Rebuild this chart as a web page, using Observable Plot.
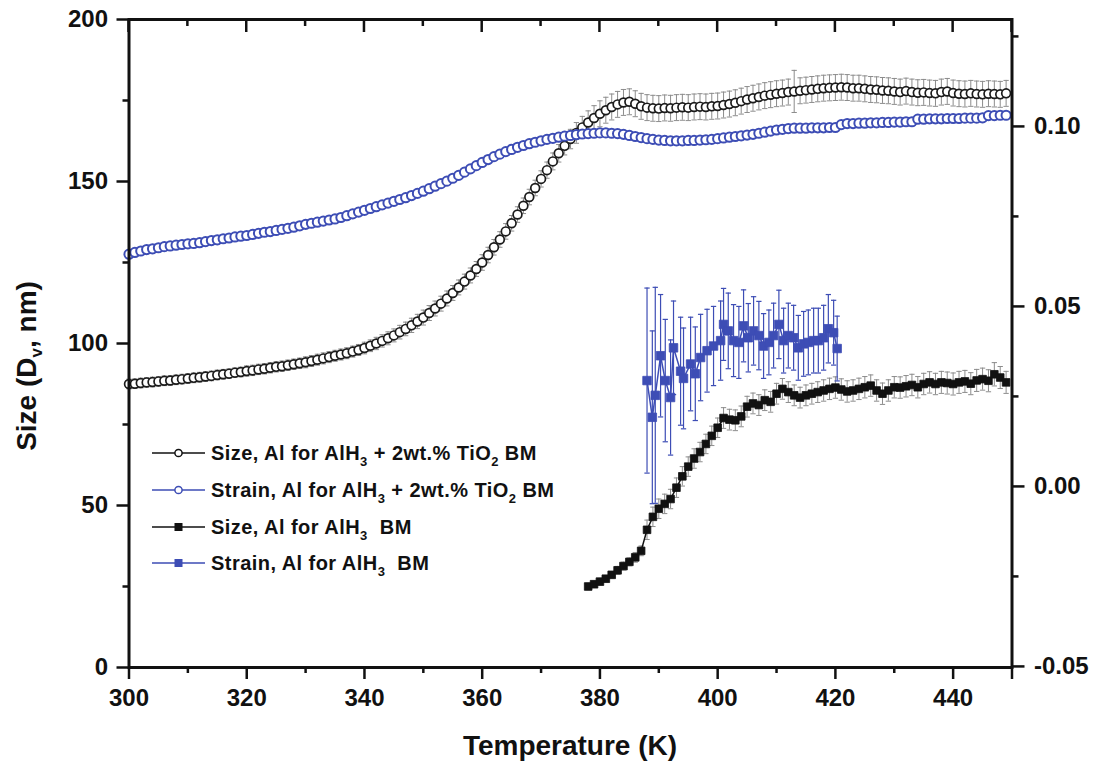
<!DOCTYPE html>
<html><head><meta charset="utf-8">
<script src="https://cdn.jsdelivr.net/npm/d3@7"></script>
<script src="https://cdn.jsdelivr.net/npm/@observablehq/plot@0.6"></script>
<style>
body{margin:0;background:#fff}
#chart svg{font-family:"Liberation Sans",Arial,sans-serif;font-weight:bold}
</style>
</head><body><div id="chart"></div><script>
// ---------- data ----------
const tempsTiO2 = [
300,301,302,303,304,305,306,307,308,309,310,311,312,313,314,315,316,317,318,319,
320,321,322,323,324,325,326,327,328,329,330,331,332,333,334,335,336,337,338,339,
340,341,342,343,344,345,346,347,348,349,350,351,352,353,354,355,356,357,358,359,
360,361,362,363,364,365,366,367,368,369,370,371,372,373,374,375,376,377,378,379,
380,381,382,383,384,385,386,387,388,389,390,391,392,393,394,395,396,397,398,399,
400,401,402,403,404,405,406,407,408,409,410,411,412,413,414,415,416,417,418,419,
420,421,422,423,424,425,426,427,428,429,430,431,432,433,434,435,436,437,438,439,
440,441,442,443,444,445,446,447,448,449];
const sizeTiO2 = [
87.5,87.6,87.8,88.0,88.1,88.3,88.5,88.6,88.8,89.0,
89.2,89.4,89.6,89.8,90.0,90.3,90.5,90.7,91.0,91.2,
91.5,91.7,92.0,92.2,92.5,92.8,93.0,93.3,93.6,93.9,
94.2,94.6,95.0,95.4,95.8,96.2,96.6,97.0,97.5,98.0,
98.6,99.3,100.0,100.8,101.6,102.5,103.5,104.5,105.6,106.8,
108.0,109.4,110.8,112.3,113.9,115.6,117.3,119.1,121.0,123.0,
125.0,127.3,129.7,132.1,134.6,137.1,139.8,142.5,145.2,148.0,
150.8,153.5,156.2,158.7,161.0,163.1,165.0,166.7,168.2,169.6,
170.9,172.0,173.0,173.8,174.4,174.6,174.0,173.2,172.8,172.6,
172.5,172.7,172.6,172.8,172.9,172.8,173.0,173.1,173.0,173.2,
173.3,173.6,173.9,174.3,174.8,175.3,175.7,176.1,176.5,176.8,
177.1,177.3,177.6,177.8,178.0,178.2,178.4,178.6,178.8,178.9,
179.0,179.1,179.0,178.8,178.8,178.6,178.4,178.3,178.1,178.0,
177.8,177.6,177.9,177.6,177.4,177.5,177.3,177.2,177.6,177.8,
177.3,177.1,177.0,177.2,177.0,176.9,177.1,177.0,176.9,177.2];
const sizeTiO2Err = [
1.5,1.5,1.5,1.5,1.5,1.5,1.5,1.5,1.5,1.5,
1.5,1.5,1.5,1.5,1.5,1.5,1.5,1.5,1.5,1.5,
1.6,1.6,1.6,1.6,1.6,1.6,1.6,1.6,1.6,1.6,
1.7,1.7,1.7,1.7,1.7,1.7,1.7,1.7,1.7,1.7,
1.8,1.8,1.9,1.9,2.0,2.0,2.1,2.1,2.2,2.2,
2.3,2.3,2.3,2.3,2.3,2.3,2.3,2.3,2.3,2.3,
2.4,2.4,2.4,2.4,2.4,2.4,2.4,2.4,2.4,2.4,
2.5,2.5,2.6,2.7,2.8,3.0,3.2,3.4,3.6,3.8,
4.0,4.0,4.0,4.0,4.0,4.0,4.0,4.0,4.0,4.0,
4.0,4.0,4.0,4.0,4.0,4.0,4.0,4.0,4.0,4.0,
4.0,4.0,4.0,4.0,4.0,4.0,4.0,4.0,4.0,4.0,
4.0,4.0,4.0,6.5,4.0,4.0,4.0,4.0,4.0,4.0,
4.0,4.0,4.0,4.0,4.0,4.0,4.0,4.0,4.0,4.0,
4.0,4.0,4.0,4.0,4.0,4.0,4.0,4.0,4.0,4.0,
4.0,4.0,4.0,4.0,4.0,4.0,4.0,4.0,4.0,4.0];
const strainTiO2 = [
.0645,.0650,.0654,.0658,.0660,.0663,.0666,.0668,.0670,.0672,
.0674,.0675,.0677,.0680,.0683,.0685,.0688,.0690,.0693,.0695,
.0697,.0700,.0703,.0706,.0708,.0711,.0714,.0717,.0720,.0724,
.0728,.0731,.0734,.0737,.0740,.0743,.0747,.0752,.0757,.0762,
.0767,.0772,.0777,.0782,.0787,.0792,.0797,.0802,.0808,.0814,
.0820,.0827,.0834,.0841,.0848,.0856,.0864,.0873,.0882,.0891,
.0900,.0908,.0916,.0923,.0930,.0936,.0942,.0947,.0952,.0956,
.0960,.0964,.0967,.0970,.0973,.0975,.0977,.0979,.0980,.0981,
.0982,.0982,.0981,.0980,.0978,.0975,.0972,.0969,.0966,.0964,
.0962,.0961,.0960,.0960,.0960,.0961,.0961,.0962,.0963,.0964,
.0966,.0968,.0970,.0972,.0974,.0976,.0978,.0981,.0984,.0987,
.0990,.0992,.0994,.0995,.0995,.0995,.0996,.0996,.0996,.0997,
.0997,.1005,.1008,.1008,.1009,.1009,.1010,.1010,.1011,.1011,
.1012,.1012,.1013,.1013,.1020,.1020,.1021,.1021,.1021,.1022,
.1022,.1022,.1023,.1023,.1023,.1024,.1030,.1030,.1031,.1031];

const tempsBM = [
378,379,380,381,382,383,384,385,386,387,
388,389,390,391,392,393,394,395,396,397,
398,399,400,401,402,403,404,405,406,407,
408,409,410,411,412,413,414,415,416,417,
418,419,420,421,422,423,424,425,426,427,
428,429,430,431,432,433,434,435,436,437,
438,439,440,441,442,443,444,445,446,447,
448,449];
const sizeBM = [
25.0,25.7,26.5,27.4,28.6,30.0,31.3,32.6,34.0,36.0,
42.5,46.5,49.0,50.5,52.0,55.5,59.0,62.0,64.5,66.5,
69.0,71.5,74.0,77.0,76.5,76.3,77.5,80.5,81.5,81.0,
82.5,82.0,84.5,86.0,85.0,84.0,83.3,84.0,84.5,85.0,
85.5,86.0,86.4,85.8,85.2,85.5,86.0,86.5,87.0,85.5,
84.5,85.5,86.5,86.4,86.8,87.2,86.5,87.5,88.0,87.5,
88.0,87.8,87.5,88.0,88.3,87.6,88.6,89.0,88.5,90.5,
89.5,88.0];
const sizeBMErr = [
1.0,1.0,1.0,1.0,1.0,1.2,1.2,1.2,1.5,1.5,
3.0,3.0,3.0,3.0,3.0,3.0,3.0,3.0,3.0,3.0,
3.0,3.0,3.0,3.2,3.2,3.2,3.2,3.2,3.2,3.2,
3.2,3.2,3.2,3.2,3.2,3.2,3.2,3.2,3.2,3.2,
3.3,3.3,3.3,3.3,3.3,3.3,3.3,3.3,3.3,3.3,
3.3,3.3,3.3,3.3,3.3,3.3,3.3,3.3,3.3,3.3,
3.4,3.4,3.4,3.4,3.4,3.4,3.4,3.4,3.4,3.6,
3.4,3.4];

const tempsStrainBM = [
388.0,388.9,389.4,390.3,391.1,392.0,392.5,393.7,394.2,395.4,
396.2,397.1,398.2,399.3,400.5,401.0,401.8,402.7,403.6,404.4,
405.2,406.1,407.0,407.8,408.7,409.5,410.4,411.2,412.0,412.9,
413.7,414.6,415.4,416.3,417.1,418.0,418.8,419.7,420.3];
const strainBM = [
.0294,.0192,.0253,.0363,.0294,.0247,.0385,.0320,.0300,.0340,
.0313,.0358,.0377,.0390,.0405,.0450,.0432,.0405,.0400,.0446,
.0413,.0432,.0419,.0390,.0400,.0419,.0450,.0405,.0419,.0413,
.0385,.0396,.0400,.0405,.0405,.0413,.0438,.0427,.0383];
const strainBMErr = [
.0257,.0240,.0300,.0170,.0170,.0160,.0130,.0150,.0140,.0130,
.0130,.0120,.0115,.0110,.0110,.0100,.0105,.0100,.0100,.0100,
.0095,.0095,.0095,.0090,.0090,.0090,.0095,.0090,.0090,.0090,
.0090,.0090,.0090,.0090,.0090,.0090,.0095,.0090,.0090];

const xMajorTicks = [300,320,340,360,380,400,420,440,450];
const xMinorTicks = [310,330,350,370,390,410,430];
const yMajorTicks = [0,50,100,150,200];
const yMinorTicks = [25,75,125,175];
const strainMajorTicks = [-0.05,0,0.05,0.10];
const strainMinorTicks = [-0.025,0.025,0.075,0.125];
const strainDomain = [-0.0503,0.1297];

const legendItems = [
  {parts:[["Size, Al for AlH"],["3",true],[" + 2wt.% TiO"],["2",true],[" BM"]], color:"black", marker:"circle"},
  {parts:[["Strain, Al for AlH"],["3",true],[" + 2wt.% TiO"],["2",true],[" BM"]], color:"blue", marker:"circle"},
  {parts:[["Size, Al for AlH"],["3",true],["\u00a0\u00a0BM"]], color:"black", marker:"square"},
  {parts:[["Strain, Al for AlH"],["3",true],["\u00a0\u00a0BM"]], color:"blue", marker:"square"}
];

// ---------- helpers ----------
const BLUE = "#3d4db5";
const GRAY = "#8c8c8c";
const s2y = s => (s - strainDomain[0]) / (strainDomain[1] - strainDomain[0]) * 200;
const y2s = y => strainDomain[0] + y / 200 * (strainDomain[1] - strainDomain[0]);
const fmtS = v => Math.abs(v) < 1e-9 ? "0.00" : (v < 0 ? "-" : "") + Math.abs(v).toFixed(2);

const tio2 = tempsTiO2.map((t,i)=>({t, size:sizeTiO2[i], se:sizeTiO2Err[i], strain:strainTiO2[i]}));
const bm = tempsBM.map((t,i)=>({t, size:sizeBM[i], se:sizeBMErr[i]}));
const sbm = tempsStrainBM.map((t,i)=>({t, strain:strainBM[i], e:strainBMErr[i]}));

const CAP = 0.45;
function errMarks(data, lo, hi, stroke, sw){
  return [
    Plot.ruleX(data, {x:"t", y1:lo, y2:hi, stroke, strokeWidth:sw}),
    Plot.link(data, {x1:d=>d.t-CAP, x2:d=>d.t+CAP, y1:hi, y2:hi, stroke, strokeWidth:sw}),
    Plot.link(data, {x1:d=>d.t-CAP, x2:d=>d.t+CAP, y1:lo, y2:lo, stroke, strokeWidth:sw})
  ];
}

const TW = 2.5;
const svg = Plot.plot({
  width:1097, height:767,
  marginLeft:128.5, marginRight:85.5, marginTop:19, marginBottom:100,
  style:{fontFamily:'"Liberation Sans",Arial,sans-serif', fontWeight:"bold", fontSize:"24px", color:"#111", background:"white", overflow:"visible"},
  x:{domain:[300,450]},
  y:{domain:[0,200]},
  marks:[
    // size TiO2
    ...errMarks(tio2, d=>d.size-d.se, d=>d.size+d.se, GRAY, 1),
    Plot.line(tio2, {x:"t", y:"size", stroke:"#222", strokeWidth:1}),
    Plot.dot(tio2, {x:"t", y:"size", r:4.4, fill:"white", stroke:"#1b1b1b", strokeWidth:1.7}),
    // strain TiO2
    Plot.line(tio2, {x:"t", y:d=>s2y(d.strain), stroke:BLUE, strokeWidth:1}),
    Plot.dot(tio2, {x:"t", y:d=>s2y(d.strain), r:4.6, fill:"white", stroke:BLUE, strokeWidth:2}),
    // size BM
    ...errMarks(bm, d=>d.size-d.se, d=>d.size+d.se, GRAY, 1),
    Plot.line(bm, {x:"t", y:"size", stroke:"#111", strokeWidth:1.5}),
    Plot.dot(bm, {x:"t", y:"size", r:4.3, symbol:"square", fill:"#111", stroke:"#111", strokeWidth:0.8}),
    // strain BM
    ...errMarks(sbm, d=>s2y(d.strain-d.e), d=>s2y(d.strain+d.e), BLUE, 1.2),
    Plot.line(sbm, {x:"t", y:d=>s2y(d.strain), stroke:BLUE, strokeWidth:1.5}),
    Plot.dot(sbm, {x:"t", y:d=>s2y(d.strain), r:4.8, symbol:"square", fill:BLUE, stroke:BLUE, strokeWidth:0.8}),
    // axes
    Plot.frame({stroke:"#111", strokeWidth:3}),
    Plot.axisX({ticks:xMajorTicks, tickSize:12, tickPadding:9, strokeWidth:TW, tickFormat:d=>d===450?"":String(d), label:null}),
    Plot.axisX({ticks:xMinorTicks, tickSize:6, strokeWidth:TW, tickFormat:()=>"", label:null}),
    Plot.axisY({ticks:yMajorTicks, tickSize:12, tickPadding:9, strokeWidth:TW, tickFormat:d=>String(d), label:null}),
    Plot.axisY({ticks:yMinorTicks, tickSize:6, strokeWidth:TW, tickFormat:()=>"", label:null}),
    Plot.axisY({anchor:"right", ticks:strainMajorTicks.map(s2y), tickSize:12, tickPadding:10, strokeWidth:TW, tickFormat:d=>fmtS(y2s(d)), label:null}),
    Plot.axisY({anchor:"right", ticks:strainMinorTicks.map(s2y), tickSize:6, strokeWidth:TW, tickFormat:()=>"", label:null})
  ]
});
document.getElementById("chart").appendChild(svg);

// ---------- mirrored inward top ticks, titles & legend ----------
const root = d3.select(svg);
const xs = svg.scale("x"), ys = svg.scale("y");
const topY = ys.apply(200);
const tt = root.append("g").attr("stroke","#111").attr("stroke-width",TW);
xMajorTicks.forEach(v => tt.append("line").attr("x1",xs.apply(v)).attr("x2",xs.apply(v)).attr("y1",topY).attr("y2",topY+13));
xMinorTicks.forEach(v => tt.append("line").attr("x1",xs.apply(v)).attr("x2",xs.apply(v)).attr("y1",topY).attr("y2",topY+7));

root.append("text")
  .attr("x", 570).attr("y", 755).attr("text-anchor","middle")
  .attr("font-size", 28).attr("font-weight","bold").attr("fill","#111")
  .text("Temperature (K)");

const yt = root.append("text")
  .attr("transform","translate(36,366) rotate(-90)")
  .attr("text-anchor","middle")
  .attr("font-size", 28).attr("font-weight","bold").attr("fill","#111");
yt.append("tspan").text("Size (D");
yt.append("tspan").attr("font-size",17).attr("dy",6).text("v");
yt.append("tspan").attr("dy",-6).text(", nm)");

const lg = root.append("g");
const rowY = [453, 490, 527, 563];
legendItems.forEach((it, i) => {
  const y = rowY[i];
  const col = it.color === "blue" ? BLUE : "#111";
  lg.append("line").attr("x1",152).attr("x2",205).attr("y1",y).attr("y2",y)
    .attr("stroke",col).attr("stroke-width",1.6);
  if (it.marker === "circle") {
    lg.append("circle").attr("cx",178.5).attr("cy",y).attr("r",3.6)
      .attr("fill","white").attr("stroke",col).attr("stroke-width",1.5);
  } else {
    lg.append("rect").attr("x",174.5).attr("y",y-4).attr("width",8).attr("height",8)
      .attr("fill",col);
  }
  const t = lg.append("text").attr("x",211).attr("y",y+7).attr("text-anchor","start")
    .attr("font-size",20).attr("font-weight","bold").attr("fill","#111")
    .attr("letter-spacing","0.45px");
  let shifted = false;
  it.parts.forEach(([txt, sub]) => {
    const ts = t.append("tspan").text(txt);
    if (sub) { ts.attr("font-size",13).attr("dy",6); shifted = true; }
    else if (shifted) { ts.attr("dy",-6); shifted = false; }
  });
});
</script></body></html>
